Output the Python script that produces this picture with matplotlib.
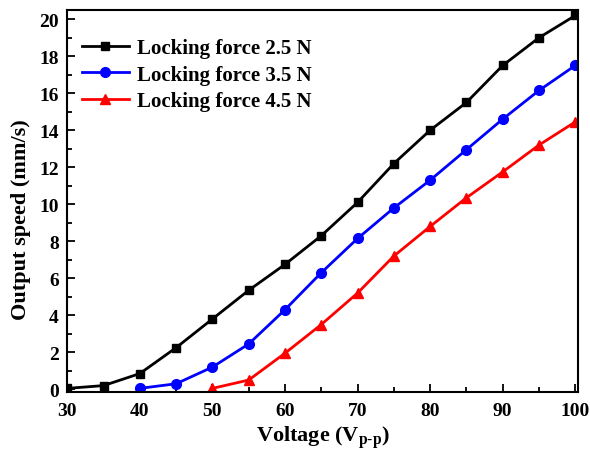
import numpy as np
import matplotlib
matplotlib.use('Agg')
import matplotlib.pyplot as plt
from matplotlib.ticker import MultipleLocator

plt.rcParams['font.family'] = 'Liberation Serif'
plt.rcParams['font.weight'] = 'bold'
plt.rcParams['mathtext.fontset'] = 'custom'
plt.rcParams['mathtext.rm'] = 'Liberation Serif:bold'
plt.rcParams['mathtext.bf'] = 'Liberation Serif:bold'

# voltage (V p-p) and output speed (mm/s)
v_25 = [30, 35, 40, 45, 50, 55, 60, 65, 70, 75, 80, 85, 90, 95, 100]
s_25 = [0.05, 0.2, 0.85, 2.25, 3.8, 5.35, 6.75, 8.3, 10.1, 12.2, 14.0, 15.5, 17.5, 19.0, 20.2]
v_35 = [40, 45, 50, 55, 60, 65, 70, 75, 80, 85, 90, 95, 100]
s_35 = [0.05, 0.3, 1.2, 2.45, 4.3, 6.3, 8.15, 9.8, 11.3, 12.95, 14.6, 16.15, 17.5]
v_45 = [50, 55, 60, 65, 70, 75, 80, 85, 90, 95, 100]
s_45 = [0.05, 0.5, 1.95, 3.5, 5.2, 7.2, 8.8, 10.35, 11.75, 13.2, 14.45]
labels = ['Locking force 2.5 N', 'Locking force 3.5 N', 'Locking force 4.5 N']

fig = plt.figure(figsize=(5.9, 4.56), dpi=100)
ax = fig.add_axes([0.114, 0.138, 0.866, 0.838])

ax.plot(v_25, s_25, 's-', color='black', lw=2, ms=6, label=labels[0])
ax.plot(v_35, s_35, 'o-', color='blue', lw=2, ms=7, label=labels[1])
ax.plot(v_45, s_45, '^-', color='red', lw=2, ms=7, label=labels[2])

ax.set_xlim(30, 100.4)
ax.set_ylim(-0.15, 20.5)
ax.xaxis.set_major_locator(MultipleLocator(10))
ax.xaxis.set_minor_locator(MultipleLocator(5))
ax.yaxis.set_major_locator(MultipleLocator(2))
ax.yaxis.set_minor_locator(MultipleLocator(1))
ax.tick_params(which='both', direction='in', top=False, right=False, labelsize=14, width=1.3)
ax.tick_params(which='major', length=6)
ax.tick_params(which='minor', length=3.5)
ax.tick_params(axis='x', pad=7)
ax.tick_params(axis='y', pad=6)
for sp in ax.spines.values():
    sp.set_linewidth(1.5)

ax.set_xlabel('Voltage (V$_{\\mathrm{p}\\text{-}\\mathrm{p}}$)', fontsize=16, fontweight='bold', labelpad=4)
ax.set_ylabel('Output speed (mm/s)', fontsize=16, fontweight='bold', labelpad=3)
ax.yaxis.set_label_coords(-0.07, 0.455)

ax.legend(loc='upper left', frameon=False, fontsize=15, handlelength=2.25,
          handletextpad=0.4, borderaxespad=0.3, labelspacing=0.32,
          bbox_to_anchor=(0.0, 0.965))

fig.savefig('out.png', dpi=100)
